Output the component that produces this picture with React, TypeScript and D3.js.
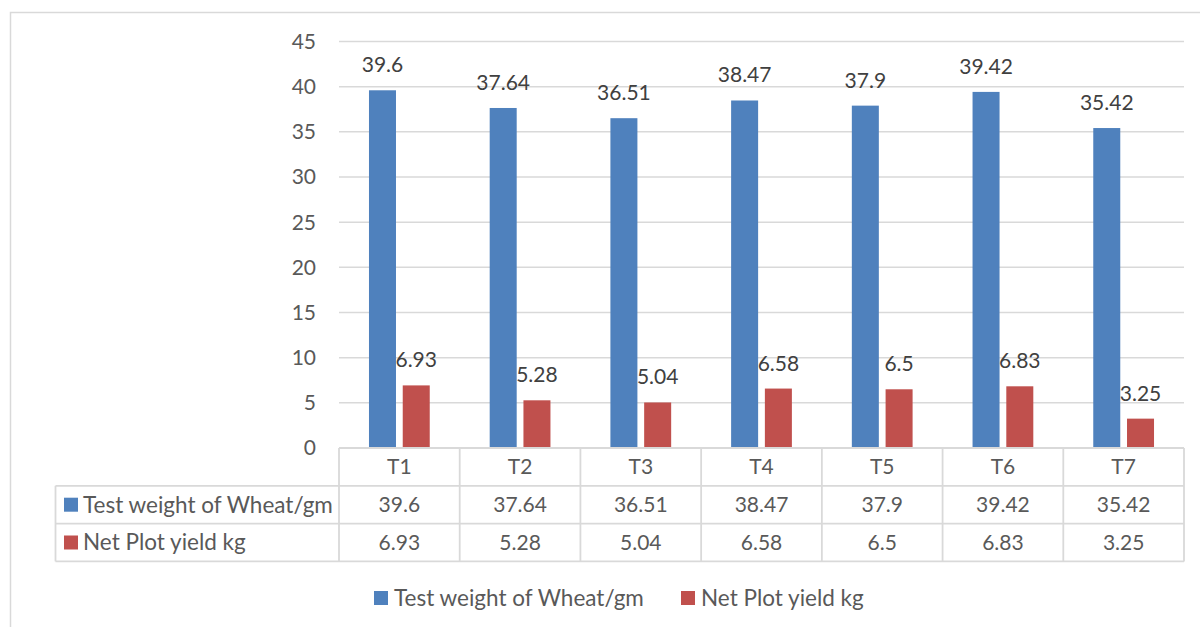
import React from "react";
import * as d3 from "d3";

// Treatments and the two measured series
const categories = ["T1", "T2", "T3", "T4", "T5", "T6", "T7"];
const testWeight = [39.6, 37.64, 36.51, 38.47, 37.9, 39.42, 35.42];
const netPlotYield = [6.93, 5.28, 5.04, 6.58, 6.5, 6.83, 3.25];
const seriesNames = ["Test weight of Wheat/gm", "Net Plot yield kg"];
const yTicks = [0, 5, 10, 15, 20, 25, 30, 35, 40, 45];

const W = 1200;
const H = 627;
const FONT = "Lato, 'Open Sans', sans-serif";
const COLORS = ["#4F81BD", "#C0504D"];
const GRID = "#D9D9D9";
const TEXT = "#595959";
const LABEL = "#404040";

const plotLeft = 339;
const plotRight = 1184;
const plotTop = 41.5;
const plotBottom = 448;
const tableLeft = 55.5;
const rowH = 37.8;
const fs = 21;
const fsName = 22.5;

export default function App() {
  const x = d3.scaleBand<string>().domain(categories).range([plotLeft, plotRight]).padding(0);
  const y = d3.scaleLinear().domain([0, 45]).range([plotBottom, plotTop]);
  const bw = x.bandwidth();
  const barW = bw / 4.47;
  const gap = barW * 0.25;
  const groupW = barW * 2 + gap;
  const series = [testWeight, netPlotYield];

  const barX = (cat: string, s: number) => (x(cat) as number) + bw / 2 - groupW / 2 + s * (barW + gap);

  const rowTop = (r: number) => plotBottom + r * rowH;
  const tableBottom = rowTop(3);
  const colEdges = categories.map((c) => x(c) as number).concat([plotRight]);

  return (
    <svg
      width={W}
      height={H}
      style={{ position: "absolute", left: 0, top: 0, background: "#fff" }}
      fontFamily={FONT}
    >
      {/* chart frame */}
      <rect x={10.5} y={12.5} width={1300} height={700} fill="none" stroke={GRID} strokeWidth={1.5} />

      {/* horizontal gridlines */}
      {yTicks.filter((t) => t > 0).map((t) => (
        <line key={t} x1={plotLeft} x2={plotRight} y1={y(t)} y2={y(t)} stroke={GRID} strokeWidth={1.5} />
      ))}

      {/* y tick labels */}
      {yTicks.map((t) => (
        <text key={t} x={316} y={y(t)} dy="0.35em" textAnchor="end" fontSize={fs} fill={TEXT}>
          {t}
        </text>
      ))}

      {/* bars */}
      {series.map((vals, s) =>
        categories.map((c, i) => (
          <rect
            key={`${s}-${c}`}
            x={barX(c, s)}
            y={y(vals[i])}
            width={barW}
            height={plotBottom - y(vals[i])}
            fill={COLORS[s]}
          />
        ))
      )}

      {/* value labels */}
      {series.map((vals, s) =>
        categories.map((c, i) => (
          <text
            key={`l-${s}-${c}`}
            x={barX(c, s) + barW / 2}
            y={y(vals[i]) - 18}
            textAnchor="middle"
            fontSize={fs}
            fill={LABEL}
          >
            {String(vals[i])}
          </text>
        ))
      )}

      {/* data table */}
      <g stroke={GRID} strokeWidth={1.8} fill="none">
        {[0, 1, 2, 3].map((r) => (
          <line key={r} x1={r === 0 ? plotLeft : tableLeft} x2={plotRight} y1={rowTop(r)} y2={rowTop(r)} />
        ))}
        {colEdges.map((cx, k) => (
          <line key={k} x1={cx} x2={cx} y1={plotBottom} y2={tableBottom} />
        ))}
        <line x1={tableLeft} x2={tableLeft} y1={rowTop(1)} y2={tableBottom} />
      </g>

      {categories.map((c) => (
        <text key={`h-${c}`} x={(x(c) as number) + bw / 2} y={rowTop(0) + rowH / 2} dy="0.35em" textAnchor="middle" fontSize={fs} fill={TEXT}>
          {c}
        </text>
      ))}
      {series.map((vals, s) => (
        <g key={`row-${s}`}>
          <rect x={64} y={rowTop(s + 1) + rowH / 2 - 7} width={14} height={14} fill={COLORS[s]} />
          <text x={83} y={rowTop(s + 1) + rowH / 2} dy="0.35em" fontSize={fsName} fill={TEXT}>
            {seriesNames[s]}
          </text>
          {categories.map((c, i) => (
            <text key={c} x={(x(c) as number) + bw / 2} y={rowTop(s + 1) + rowH / 2} dy="0.35em" textAnchor="middle" fontSize={fs} fill={TEXT}>
              {String(vals[i])}
            </text>
          ))}
        </g>
      ))}

      {/* legend */}
      {[374, 681].map((lx, s) => (
        <g key={`lg-${s}`}>
          <rect x={lx} y={591} width={14} height={14} fill={COLORS[s]} />
          <text x={lx + 20} y={598} dy="0.35em" fontSize={fsName} fill={TEXT}>
            {seriesNames[s]}
          </text>
        </g>
      ))}
    </svg>
  );
}
